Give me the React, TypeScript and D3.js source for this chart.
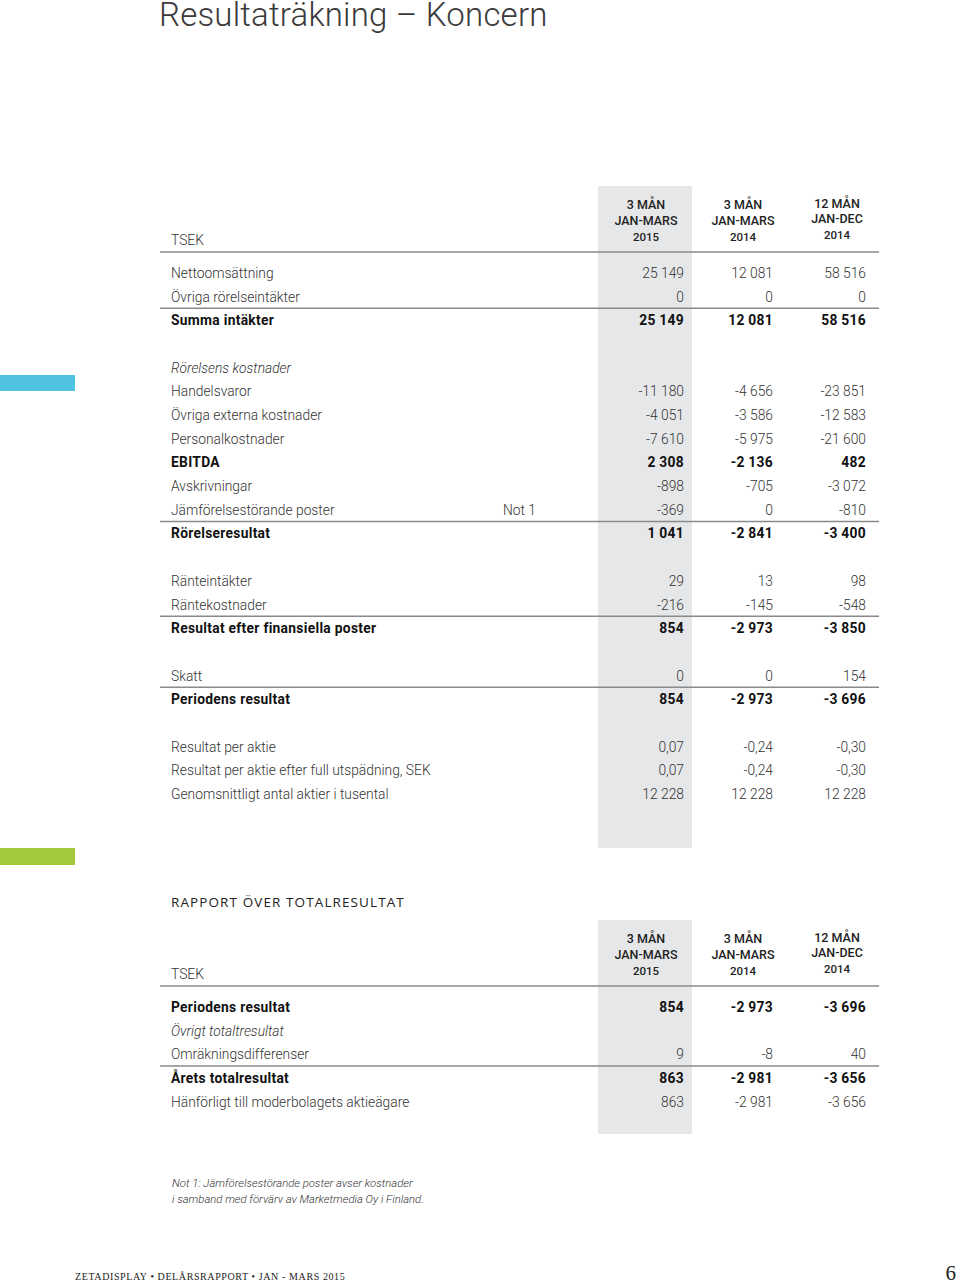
import React, { useRef, useEffect } from 'react';
import * as d3 from 'd3';

// Resultaträkning, rows in order ("" = blank spacer row)
const incomeLabels = [
  'Nettoomsättning', 'Övriga rörelseintäkter', 'Summa intäkter', '',
  'Rörelsens kostnader', 'Handelsvaror', 'Övriga externa kostnader', 'Personalkostnader',
  'EBITDA', 'Avskrivningar', 'Jämförelsestörande poster', 'Rörelseresultat', '',
  'Ränteintäkter', 'Räntekostnader', 'Resultat efter finansiella poster', '',
  'Skatt', 'Periodens resultat', '',
  'Resultat per aktie', 'Resultat per aktie efter full utspädning, SEK', 'Genomsnittligt antal aktier i tusental',
];
const income2015 = [25149, 0, 25149, null, null, -11180, -4051, -7610, 2308, -898, -369, 1041, null, 29, -216, 854, null, 0, 854, null, 0.07, 0.07, 12228];
const income2014q = [12081, 0, 12081, null, null, -4656, -3586, -5975, -2136, -705, 0, -2841, null, 13, -145, -2973, null, 0, -2973, null, -0.24, -0.24, 12228];
const income2014y = [58516, 0, 58516, null, null, -23851, -12583, -21600, 482, -3072, -810, -3400, null, 98, -548, -3850, null, 154, -3696, null, -0.3, -0.3, 12228];
const incomeNotes = { 'Jämförelsestörande poster': 'Not 1' };
const incomeRuled = ['Summa intäkter', 'Rörelseresultat', 'Resultat efter finansiella poster', 'Periodens resultat'];

// Rapport över totalresultat
const totalLabels = ['Periodens resultat', 'Övrigt totaltresultat', 'Omräkningsdifferenser', 'Årets totalresultat', 'Hänförligt till moderbolagets aktieägare'];
const total2015 = [854, null, 9, 863, 863];
const total2014q = [-2973, null, -8, -2981, -2981];
const total2014y = [-3696, null, 40, -3656, -3656];
const totalRuled = ['Årets totalresultat'];

const boldRows = ['Summa intäkter', 'EBITDA', 'Rörelseresultat', 'Resultat efter finansiella poster', 'Periodens resultat', 'Årets totalresultat'];
const italicRows = ['Rörelsens kostnader', 'Övrigt totaltresultat'];
const decimalRows = ['Resultat per aktie', 'Resultat per aktie efter full utspädning, SEK'];

const columnHeads = [
  ['3 MÅN', 'JAN-MARS', '2015'],
  ['3 MÅN', 'JAN-MARS', '2014'],
  ['12 MÅN', 'JAN-DEC', '2014'],
];

const sv = d3.formatLocale({ decimal: ',', thousands: ' ', grouping: [3], currency: ['', ' kr'], minus: '-' });
const fmtInt = sv.format(',.0f');
const fmtDec = sv.format(',.2f');

const SANS = 'Roboto, "Liberation Sans", sans-serif';
const W = 960;
const H = 1284;

const App = () => {
  const ref = useRef(null);

  useEffect(() => {
    const svg = d3.select(ref.current);
    svg.selectAll('*').remove();

    const labelX = 171;
    const colRight = d3.scaleOrdinal<number, number>().domain([0, 1, 2]).range([684, 773, 866]);
    const colCenter = d3.scaleOrdinal<number, number>().domain([0, 1, 2]).range([646, 743, 837]);

    // title
    svg.append('text').attr('x', 159).attr('y', 26)
      .style('font-family', SANS).style('font-weight', 300).style('font-size', '33px')
      .style('letter-spacing', '0.2px').attr('fill', '#3a3a3a')
      .text('Resultaträkning – Koncern');

    // side colour bars
    svg.append('rect').attr('x', 0).attr('y', 375).attr('width', 75).attr('height', 16).attr('fill', '#4fc3e1');
    svg.append('rect').attr('x', 0).attr('y', 848).attr('width', 75).attr('height', 17).attr('fill', '#a2c93c');

    const drawTable = (opts) => {
      const { top, bottom, headY, firstRowY, labels, cols, ruled } = opts;
      const g = svg.append('g');
      const y = d3.scaleLinear().domain([0, 1]).range([firstRowY, firstRowY + 23.68]);

      g.append('rect').attr('x', 598).attr('y', top).attr('width', 94).attr('height', bottom - top).attr('fill', '#e6e7e8');

      // header
      g.append('text').attr('x', labelX).attr('y', headY + 36).style('font-family', SANS).style('font-weight', 300)
        .style('font-size', '13.8px').attr('fill', '#333').text('TSEK');
      columnHeads.forEach((lines, ci) => {
        lines.forEach((ln, li) => {
          g.append('text').attr('x', colCenter(ci)).attr('y', headY + (ci === 2 ? -1.5 : 0) + li * 15.8)
            .attr('text-anchor', 'middle').style('font-family', SANS).style('font-weight', 500)
            .style('font-size', li === 2 ? '11.5px' : '12.5px').attr('fill', '#222').text(ln);
        });
      });
      g.append('line').attr('x1', 160).attr('x2', 879).attr('y1', firstRowY - 21).attr('y2', firstRowY - 21)
        .attr('stroke', '#8a8a8a').attr('stroke-width', 1.5);

      labels.forEach((lab, i) => {
        if (!lab) return;
        const cy = y(i);
        const bold = boldRows.includes(lab);
        const italic = italicRows.includes(lab);
        if (ruled.includes(lab)) {
          g.append('line').attr('x1', 160).attr('x2', 879).attr('y1', cy - 12).attr('y2', cy - 12)
            .attr('stroke', '#8a8a8a').attr('stroke-width', 1.5);
        }
        const style = (t) => t.style('font-family', SANS).style('font-size', '13.8px')
          .style('font-weight', bold ? 700 : 300).style('font-style', italic ? 'italic' : 'normal')
          .style('letter-spacing', bold ? '0.3px' : '0px')
          .attr('fill', bold ? '#111' : '#333');
        style(g.append('text').attr('x', labelX).attr('y', cy + 5).text(lab));
        if (incomeNotes[lab]) {
          style(g.append('text').attr('x', 503).attr('y', cy + 5).text(incomeNotes[lab]));
        }
        cols.forEach((arr, ci) => {
          const v = arr[i];
          if (v === null || v === undefined) return;
          const s = decimalRows.includes(lab) ? fmtDec(v) : fmtInt(v);
          style(g.append('text').attr('x', colRight(ci)).attr('y', cy + 5).attr('text-anchor', 'end')
            .style('letter-spacing', '0px').text(s));
        });
      });
    };

    drawTable({
      top: 186, bottom: 848, headY: 209, firstRowY: 273,
      labels: incomeLabels, cols: [income2015, income2014q, income2014y], ruled: incomeRuled,
    });

    svg.append('text').attr('x', 171).attr('y', 907)
      .style('font-family', '"Open Sans", sans-serif').style('font-size', '13.5px').style('letter-spacing', '1.1px')
      .attr('fill', '#222').text('RAPPORT ÖVER TOTALRESULTAT');

    drawTable({
      top: 920, bottom: 1134, headY: 943, firstRowY: 1007,
      labels: totalLabels, cols: [total2015, total2014q, total2014y], ruled: totalRuled,
    });

    // footnote
    const note = ['Not 1: Jämförelsestörande poster avser kostnader', 'i samband med förvärv av Marketmedia Oy i Finland.'];
    note.forEach((t, i) => {
      svg.append('text').attr('x', 172).attr('y', 1187 + i * 16)
        .style('font-family', SANS).style('font-size', '11.3px').style('font-style', 'italic').style('font-weight', 300)
        .attr('fill', '#333').text(t);
    });

    // footer
    svg.append('text').attr('x', 75).attr('y', 1280)
      .style('font-family', '"Liberation Serif", serif').style('font-size', '10px').style('letter-spacing', '0.6px')
      .attr('fill', '#222').text('ZETADISPLAY • DELÅRSRAPPORT • JAN - MARS 2015');
    svg.append('text').attr('x', 956).attr('y', 1280).attr('text-anchor', 'end')
      .style('font-family', '"Liberation Serif", serif').style('font-size', '21px')
      .attr('fill', '#222').text('6');
  }, []);

  return (
    <svg ref={ref} width={W} height={H} style={{ position: 'absolute', left: 0, top: 0, background: '#fff' }} />
  );
};

export default App;
